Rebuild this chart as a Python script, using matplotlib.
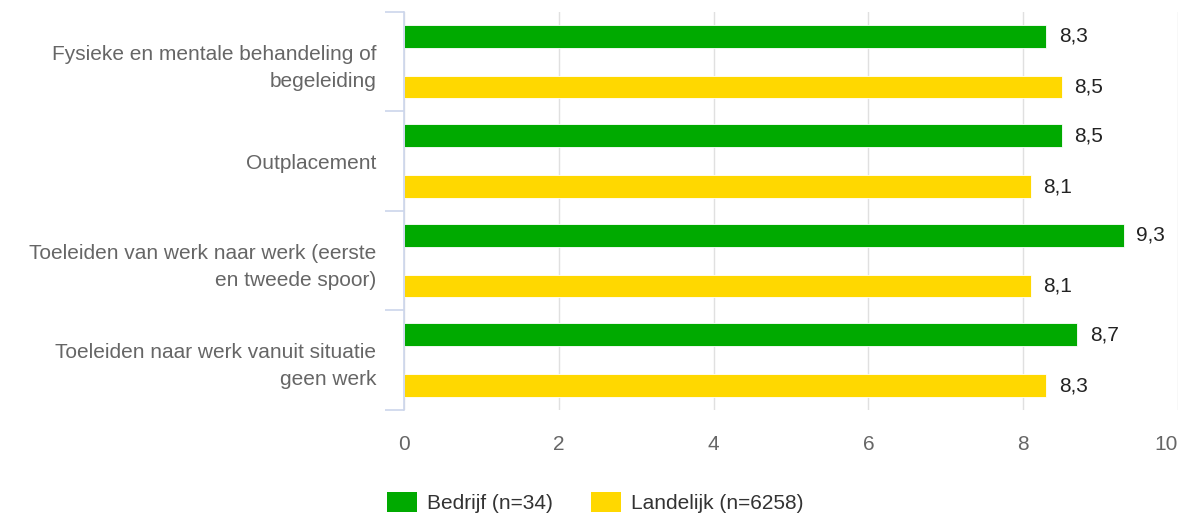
import matplotlib
matplotlib.use('Agg')
import matplotlib.pyplot as plt
from matplotlib.patches import Patch
import numpy as np

plt.rcParams['font.family'] = ['Liberation Sans', 'DejaVu Sans']

# data
categories = ['Fysieke en mentale behandeling of\nbegeleiding',
              'Outplacement',
              'Toeleiden van werk naar werk (eerste\nen tweede spoor)',
              'Toeleiden naar werk vanuit situatie\ngeen werk']
bedrijf = [8.3, 8.5, 9.3, 8.7]
landelijk = [8.5, 8.1, 8.1, 8.3]
series_names = ['Bedrijf (n=34)', 'Landelijk (n=6258)']
x_ticks = [0, 2, 4, 6, 8, 10]

green = '#00aa00'
yellow = '#ffd800'
label_grey = '#666666'
axis_col = '#ccd6eb'
fs = 15

fig = plt.figure(figsize=(11.81, 5.15), dpi=100)
ax = fig.add_axes([0.342, 0.204, 0.6555, 0.773])

y = np.arange(len(categories))
h = 0.23
off = 0.255
b1 = ax.barh(y - off, bedrijf, height=h, color=green, edgecolor='white', linewidth=0.6, zorder=3)
b2 = ax.barh(y + off, landelijk, height=h, color=yellow, edgecolor='white', linewidth=0.6, zorder=3)

for bars, vals in [(b1, bedrijf), (b2, landelijk)]:
    for r, v in zip(bars, vals):
        ax.annotate(f'{v:.1f}'.replace('.', ','),
                    (r.get_width(), r.get_y() + r.get_height() / 2),
                    xytext=(9, 0), textcoords='offset points',
                    va='center', ha='left', fontsize=fs, color='#222222')

ax.set_xlim(0, 10)
ax.set_ylim(len(categories) - 0.5, -0.5)
ax.set_xticks(x_ticks)
ax.set_xticklabels([str(t) for t in x_ticks])
ax.get_xticklabels()[-1].set_horizontalalignment('right')
ax.set_yticks(y)
ax.set_yticklabels(categories, fontsize=fs, color=label_grey, linespacing=1.55)
ax.set_yticks(np.arange(len(categories) + 1) - 0.5, minor=True)
ax.tick_params(axis='y', which='major', length=0, pad=20)
ax.tick_params(axis='y', which='minor', length=14, width=1.2, color=axis_col)
ax.tick_params(axis='x', length=0, pad=18, labelsize=fs, labelcolor=label_grey)

ax.grid(axis='x', color='#e0e0e0', linewidth=1, zorder=0)
for s in ['top', 'right', 'bottom']:
    ax.spines[s].set_visible(False)
ax.spines['left'].set_color(axis_col)
ax.spines['left'].set_linewidth(1.2)
ax.spines['left'].set_zorder(4)

handles = [Patch(facecolor=green, edgecolor='none'), Patch(facecolor=yellow, edgecolor='none')]
fig.legend(handles, series_names, loc='lower center', bbox_to_anchor=(0.504, -0.033),
           ncol=2, frameon=False, fontsize=fs, handlelength=1.45, handleheight=1.05,
           columnspacing=1.8, handletextpad=0.5, labelcolor='#333333')

fig.savefig('out.png', dpi=100)
